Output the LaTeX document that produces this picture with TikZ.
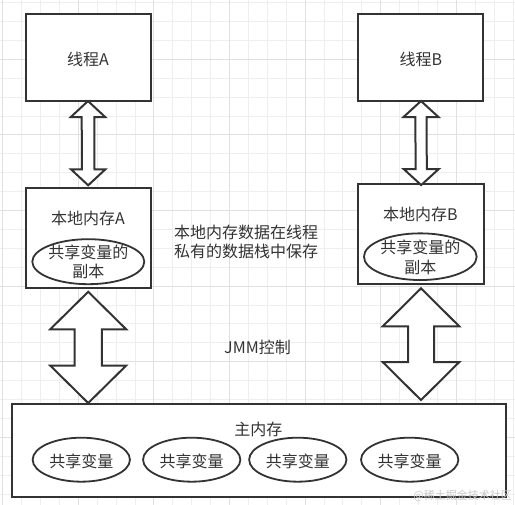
\documentclass[tikz,border=0pt]{standalone}
\usepackage{fontspec}
\setmainfont{Noto Sans CJK SC}
\usetikzlibrary{calc,shapes.geometric}
\definecolor{ink}{HTML}{333333}
\definecolor{gridminor}{HTML}{EEEEEE}
\definecolor{gridmajor}{HTML}{E0E0E0}
\newcommand\dblarr[5]{\draw[arr] (#1) -- ($(#1)+(#3,#5)$) -- ($(#1)+(#4,#5)$) -- ($(#2)+(#4,-#5)$) -- ($(#2)+(#3,-#5)$) -- (#2) -- ($(#2)+(-#3,-#5)$) -- ($(#2)+(-#4,-#5)$) -- ($(#1)+(-#4,#5)$) -- ($(#1)+(-#3,#5)$) -- cycle;}
\begin{document}
\begin{tikzpicture}[x=1pt,y=-1pt,
  box/.style={draw=ink,line width=2pt,inner sep=0pt,fill=white},
  oval/.style={ellipse,draw=ink,line width=1.8pt,inner sep=0pt,fill=white},
  lbl/.style={text=ink,font=\fontsize{16}{19.5}\selectfont,inner sep=0pt,align=center},
  arr/.style={draw=ink,line width=2pt,fill=white,line join=miter},
  minorgrid/.style={draw=gridminor,line width=0.9pt},
  majorgrid/.style={draw=gridmajor,line width=1pt}]
\useasboundingbox (0,0) rectangle (515,505);
\fill[white] (0,0) rectangle (515,505);
\foreach \k in {0,...,27} {\draw[minorgrid] ({2.7+18.9*\k},0) -- ({2.7+18.9*\k},505);}
\foreach \k in {0,...,26} {\draw[minorgrid] (0,{2.6+18.9*\k}) -- (515,{2.6+18.9*\k});}
\foreach \k in {0,4,...,24} {\draw[majorgrid] ({2.7+18.9*\k},0) -- ({2.7+18.9*\k},505);}
\foreach \k in {3,7,...,23} {\draw[majorgrid] (0,{2.6+18.9*\k}) -- (515,{2.6+18.9*\k});}

% thread boxes
\node[box,minimum width=125pt,minimum height=87.5pt] (tA) at (88,57.3) {};
\node[lbl] (tAt) at (88,59.3) {线程A};
\node[box,minimum width=125pt,minimum height=87.5pt] (tB) at (420.8,57.3) {};
\node[lbl] (tBt) at (420.8,59.3) {线程B};

% local memory boxes
\node[box,minimum width=125pt,minimum height=100pt] (lA) at (88.2,238.3) {};
\node[lbl] (lAt) at (88,218.8) {本地内存A};
\node[oval,minimum width=112pt,minimum height=45pt] (eA) at (88.3,261.7) {};
\node[lbl] (eAt) at (88.3,262) {共享变量的\\副本};

\node[box,minimum width=125.7pt,minimum height=100.3pt] (lB) at (421.2,234.2) {};
\node[lbl] (lBt) at (420.5,214.8) {本地内存B};
\node[oval,minimum width=112.7pt,minimum height=46.7pt] (eB) at (420.3,256.7) {};
\node[lbl] (eBt) at (420.3,257.5) {共享变量的\\副本};

% main memory
\node[box,minimum width=494pt,minimum height=93.3pt] (main) at (258.7,450.7) {};
\node[lbl] (mt) at (258.3,429.8) {主内存};
\foreach \cx/\nm in {81.3/m1,191.7/m2,297.8/m3,409.7/m4} {
  \node[oval,minimum width=97.3pt,minimum height=44pt] (\nm) at (\cx,459.7) {};
  \node[lbl] (\nm t) at (\cx,461.5) {共享变量};
}

% annotations
\node[lbl,align=left,anchor=west] (note) at (174,241.8) {本地内存数据在线程\\私有的数据栈中保存};
\node[lbl] (jmm) at (257.5,347.8) {JMM控制};

% arrows
\coordinate (aTop) at ($(tA.south)+(0,-1)$);
\coordinate (aBot) at ($(lA.north)+(0,-2)$);
\dblarr{aTop}{aBot}{17.2}{6.3}{16}
\coordinate (bTop) at ($(tB.south)+(0.2,-1)$);
\coordinate (bBot) at ($(lB.north)+(0,2)$);
\dblarr{bTop}{bBot}{17.5}{5.6}{16}
\coordinate (cTop) at ($(lA.south)+(0,2.5)$);
\coordinate (cBot) at (cTop |- main.north);
\dblarr{cTop}{cBot}{38}{13.7}{37.5}
\coordinate (dTop) at ($(lB.south)+(-0.2,3)$);
\coordinate (dBot) at ($(dTop |- main.north)+(0,-3)$);
\dblarr{dTop}{dBot}{38.3}{13}{38}

% watermark
\node[text=black!22,font=\fontsize{11}{13}\selectfont,inner sep=0pt,anchor=east] (wm) at (512,496) {@稀土掘金技术社区};
\end{tikzpicture}
\end{document}
